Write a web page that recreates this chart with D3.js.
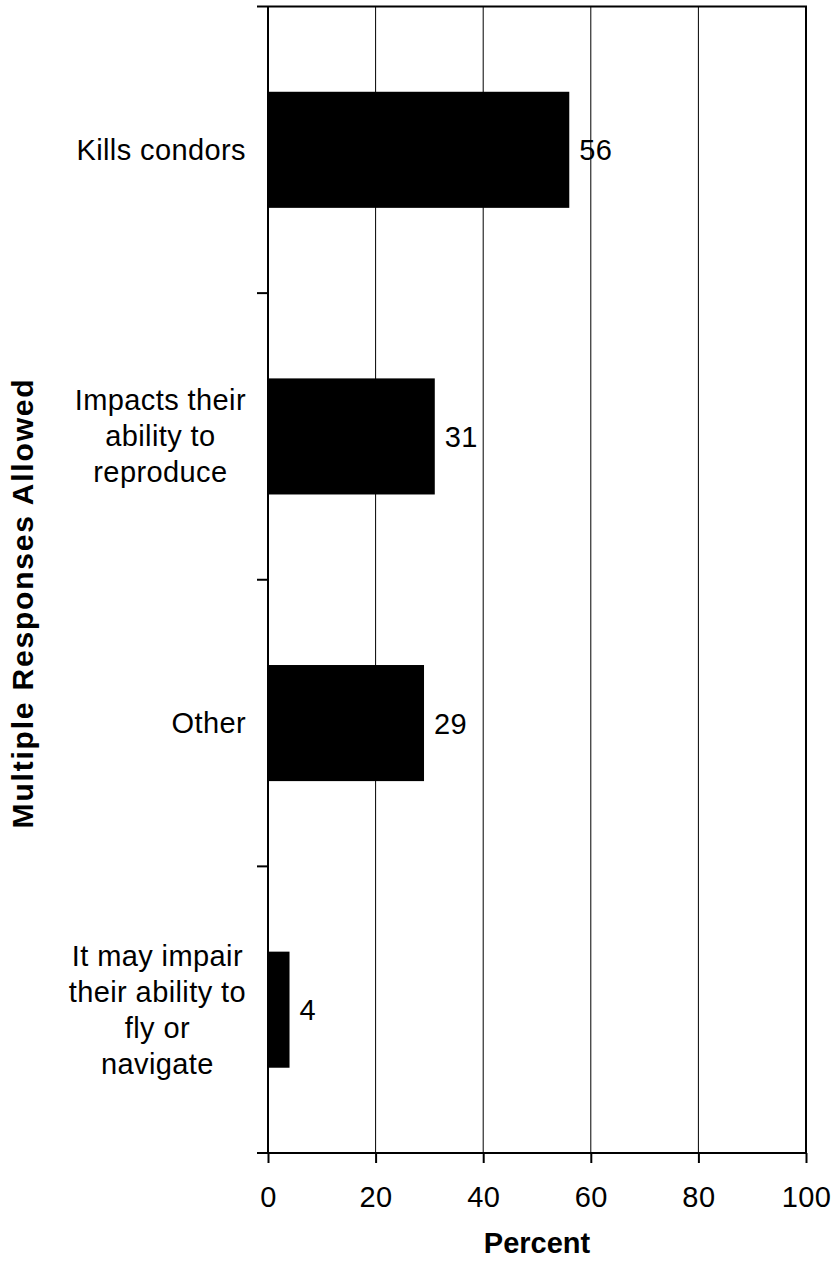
<!DOCTYPE html>
<html>
<head>
<meta charset="utf-8">
<script src="https://cdn.jsdelivr.net/npm/d3@7"></script>
<style>
  html, body { margin: 0; padding: 0; background: #fff; }
  svg { display: block; }
  svg text { font-family: "Liberation Sans", Arimo, Arial, Helvetica, sans-serif; }
</style>
</head>
<body>
<svg id="chart" width="832" height="1261"></svg>
<script>
// Survey responses, in percent (multiple responses allowed)
const categories = [
  ["Kills condors"],
  ["Impacts their", "ability to", "reproduce"],
  ["Other"],
  ["It may impair", "their ability to", "fly or", "navigate"]
];
const values = [56, 31, 29, 4];
const xTicks = [0, 20, 40, 60, 80, 100];
const xTitle = "Percent";
const yTitle = "Multiple Responses Allowed";

const FONT = "'Liberation Sans', Arimo, Arial, Helvetica, sans-serif";
const FS = 29, LS = 0.4;
const svg = d3.select("#chart");
const plotL = 268, plotR = 806, plotT = 6.5, plotB = 1153;

const keys = categories.map((c, i) => i);
const x = d3.scaleLinear().domain([0, 100]).range([plotL, plotR]);
const y = d3.scaleBand().domain(keys).range([plotT, plotB])
  .paddingInner(0.595).paddingOuter(0.2975);
const step = (plotB - plotT) / keys.length;

// vertical gridlines
svg.append("g").selectAll("line").data(xTicks.slice(1, -1)).join("line")
  .attr("x1", d => x(d)).attr("x2", d => x(d))
  .attr("y1", plotT).attr("y2", plotB)
  .attr("stroke", "#000").attr("stroke-width", 1);

// bars
svg.append("g").selectAll("rect").data(values).join("rect")
  .attr("x", x(0))
  .attr("y", (d, i) => y(i))
  .attr("width", d => x(d) - x(0))
  .attr("height", y.bandwidth())
  .attr("fill", "#000");

// value labels
svg.append("g").selectAll("text").data(values).join("text")
  .attr("x", d => x(d) + 10)
  .attr("y", (d, i) => y(i) + y.bandwidth() / 2 + 10.5)
  .attr("font-family", FONT)
  .attr("font-size", FS).attr("letter-spacing", LS)
  .attr("fill", "#000")
  .text(d => d);

// plot frame: top and right edges
svg.append("path")
  .attr("d", `M${plotL},${plotT}H${plotR}V${plotB}`)
  .attr("fill", "none").attr("stroke", "#000").attr("stroke-width", 2);

// x axis
const xAxis = svg.append("g").attr("transform", `translate(0,${plotB})`)
  .call(d3.axisBottom(x).tickValues(xTicks).tickSize(10).tickPadding(0).tickFormat(d3.format("d")));
xAxis.attr("font-family", null).attr("font-size", null);
xAxis.select(".domain").attr("stroke-width", 2).attr("d", `M${plotL},0H${plotR}`);
xAxis.selectAll(".tick line").attr("stroke-width", 2);
xAxis.selectAll(".tick text").remove();
xAxis.selectAll(".tick").append("text")
  .attr("y", 54).attr("text-anchor", "middle")
  .attr("font-family", FONT)
  .attr("font-size", FS).attr("letter-spacing", LS)
  .attr("fill", "#000")
  .text(d => d);

// y axis: ticks at category boundaries
const yAxisG = svg.append("g");
yAxisG.append("line")
  .attr("x1", plotL).attr("x2", plotL).attr("y1", plotT).attr("y2", plotB)
  .attr("stroke", "#000").attr("stroke-width", 2);
yAxisG.selectAll("line.tk").data(d3.range(keys.length + 1)).join("line")
  .attr("class", "tk")
  .attr("x1", plotL - 11).attr("x2", plotL)
  .attr("y1", i => plotT + i * step).attr("y2", i => plotT + i * step)
  .attr("stroke", "#000").attr("stroke-width", 2);

// category labels: lines centred within a right-aligned block
const lineH = 36, blockRight = 246;
categories.forEach((lines, i) => {
  const cy = y(i) + y.bandwidth() / 2;
  const t = svg.append("text")
    .attr("font-family", FONT)
    .attr("font-size", FS).attr("letter-spacing", LS)
    .attr("text-anchor", "middle").attr("fill", "#000");
  const spans = lines.map((ln, j) => t.append("tspan")
    .attr("y", cy - (lines.length - 1) / 2 * lineH + j * lineH + 10)
    .text(ln));
  const maxW = d3.max(spans, s => s.node().getComputedTextLength());
  spans.forEach(s => s.attr("x", blockRight - maxW / 2));
});

// axis titles
svg.append("text")
  .attr("x", (plotL + plotR) / 2).attr("y", 1253)
  .attr("text-anchor", "middle")
  .attr("font-family", FONT)
  .attr("font-size", FS).attr("font-weight", "bold")
  .attr("fill", "#000")
  .text(xTitle);

svg.append("text")
  .attr("transform", "translate(33,603) rotate(-90)")
  .attr("text-anchor", "middle")
  .attr("font-family", FONT)
  .attr("font-size", 30).attr("font-weight", "bold").attr("letter-spacing", 1.8)
  .attr("fill", "#000")
  .text(yTitle);
</script>
</body>
</html>
